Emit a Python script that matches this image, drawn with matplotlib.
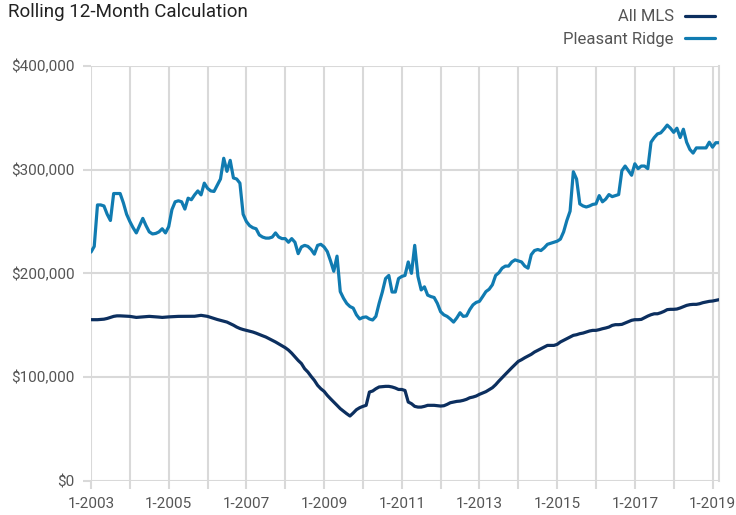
import numpy as np
import matplotlib
matplotlib.use("Agg")
import matplotlib.pyplot as plt

plt.rcParams['font.family'] = ['Liberation Sans Narrow', 'Roboto', 'DejaVu Sans']

# monthly values, Jan 2003 .. Mar 2019, in $ thousands
all_mls = [
    155.3, 155.3, 155.3, 155.5, 155.8, 156.5, 157.5, 158.5, 159.0, 159.0,
    158.8, 158.5, 158.5, 158.0, 157.5, 157.8, 158.0, 158.2, 158.5, 158.3,
    158.0, 157.8, 157.5, 157.8, 158.0, 158.2, 158.5, 158.5, 158.5, 158.5,
    158.5, 158.5, 158.6, 159.0, 159.5, 159.0, 158.5, 157.5, 156.5, 155.5,
    154.7, 153.8, 153.0, 151.5, 150.0, 148.2, 146.8, 145.8, 145.0, 144.2,
    143.4, 142.3, 141.0, 139.8, 138.6, 137.0, 135.4, 133.8, 132.0, 130.2,
    128.3, 126.0, 123.0, 119.5, 116.0, 113.0, 108.0, 104.8, 100.6, 96.8,
    92.0, 88.7, 86.2, 82.3, 79.0, 75.9, 72.7, 69.5, 67.0, 64.6,
    62.4, 65.3, 68.5, 70.4, 71.7, 72.7, 85.5, 86.5, 88.7, 90.4,
    90.7, 91.0, 91.0, 90.4, 89.4, 88.0, 88.0, 87.0, 75.9, 74.3,
    71.7, 71.0, 71.0, 71.7, 72.7, 72.7, 72.7, 72.3, 72.0, 72.3,
    73.6, 75.2, 75.9, 76.5, 76.8, 77.5, 78.5, 80.0, 80.7, 81.7,
    83.3, 84.6, 85.9, 87.8, 89.7, 92.6, 96.1, 99.4, 102.6, 105.8,
    109.0, 112.0, 115.1, 116.7, 118.6, 120.3, 121.9, 124.1, 125.7, 127.3,
    128.9, 130.5, 130.5, 130.5, 131.5, 133.8, 135.4, 137.0, 138.6, 140.2,
    140.8, 141.8, 142.4, 143.4, 144.4, 145.0, 145.0, 145.7, 146.6, 147.3,
    148.2, 149.8, 150.5, 150.5, 150.8, 152.1, 153.4, 154.7, 155.3, 155.3,
    155.6, 157.2, 158.8, 160.1, 161.0, 161.0, 162.0, 163.3, 165.0, 165.3,
    165.3, 165.6, 166.6, 167.8, 169.1, 169.8, 170.1, 170.1, 170.7, 171.7,
    172.3, 173.0, 173.3, 174.0, 174.6,
]

pleasant_ridge = [
    220.5, 226.0, 266.0, 266.0, 265.0, 257.0, 251.0, 277.0, 277.0, 277.0,
    268.0, 257.0, 250.0, 244.0, 239.0, 246.0, 253.0, 246.0, 240.0, 238.0,
    238.5, 240.0, 243.0, 239.0, 245.0, 261.5, 269.0, 270.0, 269.0, 262.0,
    272.5, 271.0, 275.7, 279.5, 275.7, 287.0, 282.0, 279.5, 279.0, 285.0,
    291.0, 311.0, 298.4, 309.0, 292.0, 291.0, 287.0, 257.0, 250.0, 246.0,
    244.0, 243.0, 237.0, 235.0, 234.0, 234.0, 235.0, 239.0, 235.0, 233.5,
    233.5, 230.0, 233.5, 230.0, 219.0, 225.5, 227.0, 226.0, 223.0, 218.5,
    227.0, 228.0, 225.5, 221.0, 212.0, 202.0, 216.6, 182.4, 176.0, 171.0,
    168.0, 166.5, 160.0, 156.0, 157.5, 158.0, 156.0, 155.0, 158.5, 171.0,
    182.0, 195.0, 198.0, 182.0, 182.0, 195.0, 197.0, 198.0, 211.0, 200.0,
    227.0, 197.0, 184.0, 187.0, 179.0, 177.6, 176.7, 171.0, 163.0, 160.0,
    158.5, 156.0, 153.0, 157.0, 162.0, 158.5, 159.0, 165.0, 169.6, 172.0,
    173.0, 177.6, 182.4, 184.7, 189.0, 198.0, 200.6, 205.0, 207.0, 207.0,
    211.0, 213.0, 212.0, 211.0, 207.0, 205.0, 218.0, 222.0, 223.0, 222.0,
    224.6, 228.0, 229.0, 230.0, 231.0, 233.0, 240.0, 251.0, 260.0, 298.0,
    291.0, 267.0, 265.0, 264.0, 265.0, 266.5, 267.0, 275.0, 269.0, 271.6,
    276.0, 274.0, 275.0, 276.0, 299.0, 303.5, 299.0, 294.6, 305.7, 301.0,
    303.5, 303.5, 301.0, 326.5, 331.0, 334.5, 335.5, 339.0, 343.0, 340.0,
    336.0, 340.0, 331.0, 339.0, 326.5, 319.5, 316.0, 321.0, 321.0, 321.0,
    321.0, 326.5, 321.7, 326.0, 326.0,
]

years = list(range(2003, 2020))
year_labels = ["1-%d" % y if (y - 2003) % 2 == 0 else "" for y in years]
y_ticks = [0, 100000, 200000, 300000, 400000]
y_labels = ["$0", "$100,000", "$200,000", "$300,000", "$400,000"]

grid_c = "#d9d9d9"
text_c = "#555555"
mls_c = "#0c2f5f"
pr_c = "#107bb1"

months = np.arange(len(all_mls))

fig = plt.figure(figsize=(7.36, 5.15), dpi=100)
ax = fig.add_axes([91 / 736, 1 - 480.7 / 515, (719 - 91) / 736, (480.7 - 66) / 515])

ax.plot(months, np.array(all_mls) * 1000, color=mls_c, lw=2.3, label="All MLS",
        solid_capstyle="round", zorder=3)
ax.plot(months, np.array(pleasant_ridge) * 1000, color=pr_c, lw=2.3, label="Pleasant Ridge",
        solid_capstyle="round", zorder=3)

ax.set_xlim(0, len(all_mls) - 1)
ax.set_ylim(0, 400000)
ax.set_xticks([(y - 2003) * 12 for y in years])
ax.set_xticklabels(year_labels)
ax.set_yticks(y_ticks)
ax.set_yticklabels(y_labels)

ax.grid(True, color=grid_c, lw=1.5, zorder=0)
for s in ["top", "left", "bottom"]:
    ax.spines[s].set_visible(False)
ax.spines["right"].set_color(grid_c)
ax.spines["right"].set_linewidth(1.5)
ax.tick_params(axis="both", colors=grid_c, width=1.5, length=6, labelcolor=text_c,
               labelsize=11)
ax.tick_params(axis="x", pad=6)
ax.tick_params(axis="y", pad=6)

fig.text(8 / 736, 1 - 12 / 515, "Rolling 12-Month Calculation", fontsize=13.5,
         color="#222222", va="center", ha="left")

leg = ax.legend(loc="lower right", bbox_to_anchor=(1.005, 1.03), frameon=False,
                markerfirst=False, fontsize=12, handlelength=1.8, handletextpad=0.7,
                labelspacing=0.45, borderaxespad=0)
for t in leg.get_texts():
    t.set_color(text_c)

fig.savefig("out.png", dpi=100)
